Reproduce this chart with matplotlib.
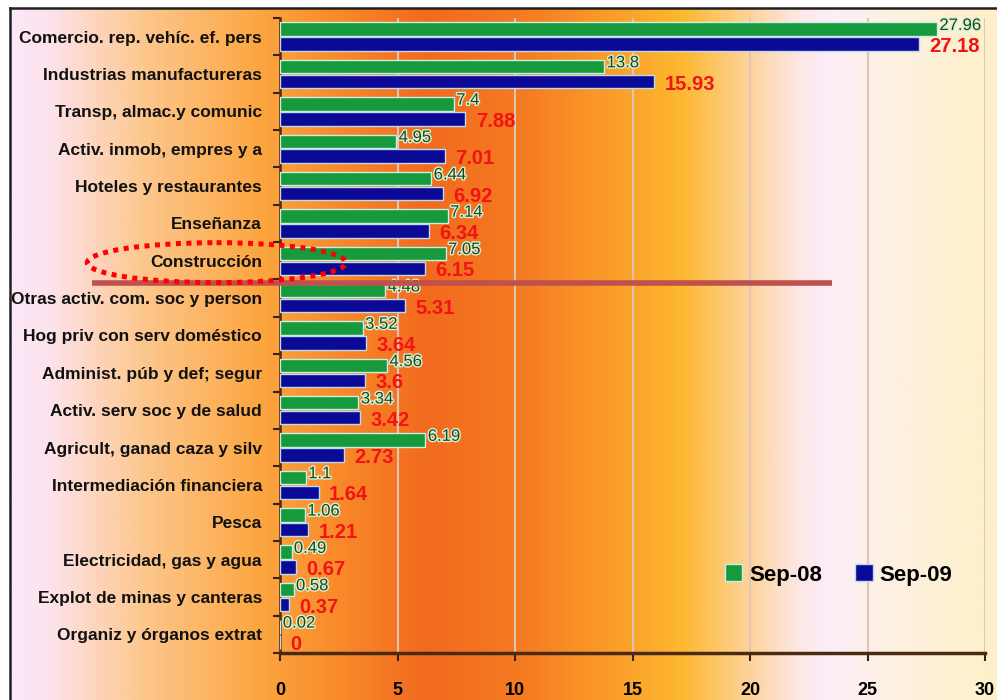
import numpy as np
import matplotlib
matplotlib.use("Agg")
import matplotlib.pyplot as plt
from matplotlib.colors import LinearSegmentedColormap, to_rgb
from matplotlib.patches import Ellipse
from matplotlib.lines import Line2D
import matplotlib.patheffects as pe

plt.rcParams['font.family'] = ['Liberation Sans', 'DejaVu Sans']

sectors = [
    "Comercio. rep. vehíc. ef. pers",
    "Industrias manufactureras",
    "Transp, almac.y comunic",
    "Activ. inmob, empres y a",
    "Hoteles y restaurantes",
    "Enseñanza",
    "Construcción",
    "Otras activ. com. soc y person",
    "Hog priv con serv doméstico",
    "Administ. púb y def; segur",
    "Activ. serv soc y de salud",
    "Agricult, ganad caza y silv",
    "Intermediación financiera",
    "Pesca",
    "Electricidad, gas y agua",
    "Explot de minas y canteras",
    "Organiz y órganos extrat",
]
sep08 = [27.96, 13.8, 7.4, 4.95, 6.44, 7.14, 7.05, 4.48, 3.52, 4.56, 3.34,
         6.19, 1.1, 1.06, 0.49, 0.58, 0.02]
sep09 = [27.18, 15.93, 7.88, 7.01, 6.92, 6.34, 6.15, 5.31, 3.64, 3.6, 3.42,
         2.73, 1.64, 1.21, 0.67, 0.37, 0]
xticks = [0, 5, 10, 15, 20, 25, 30]

W, H = 997, 700
fig = plt.figure(figsize=(W / 100, H / 100), dpi=100)

# horizontal background gradient
stops = [(0, "#fce8f8"), (40, "#fde2ea"), (130, "#fdc890"), (250, "#fca640"),
         (330, "#f98a2a"), (420, "#f26a1e"), (520, "#f57c22"), (600, "#fa9a28"),
         (680, "#fdb830"), (740, "#fdd090"), (800, "#fde8e8"), (830, "#fdeefa"),
         (870, "#fdf0e8"), (997, "#fdf0c8")]
cmap = LinearSegmentedColormap.from_list(
    "bg", [(p / W, to_rgb(c)) for p, c in stops])
bg = fig.add_axes([10 / W, 0, 1 - 10 / W, 1 - 8 / H])
bg.imshow(np.linspace(0, 1, 600)[None, :], cmap=cmap, aspect="auto",
          extent=[0, 1, 0, 1])
bg.set_axis_off()

# frame lines at left and top edges
fig.add_artist(Line2D([10 / W, 10 / W], [0, 1 - 8 / H], color="#202020", lw=1.8))
fig.add_artist(Line2D([10 / W, 1], [1 - 8 / H, 1 - 8 / H], color="#202020", lw=1.8))

ax = fig.add_axes([280 / W, 47 / H, 705 / W, 635 / H])
ax.patch.set_alpha(0)

y = np.arange(len(sectors))
h = 0.36
ax.barh(y - 0.2, sep08, height=h, color="#169a3c", edgecolor="#c8f0e8",
        linewidth=1, label="Sep-08", zorder=3)
ax.barh(y + 0.2, sep09, height=h, color="#0a0a96", edgecolor="#c0d8f0",
        linewidth=1, label="Sep-09", zorder=3)

for yi, v in zip(y, sep08):
    ax.text(v + 0.1, yi - 0.3, f"{v:g}", color="#144a22", fontsize=12,
            va="center", ha="left", zorder=4,
            path_effects=[pe.withStroke(linewidth=2, foreground="#d8f0d0")])
for yi, v in zip(y, sep09):
    ax.text(v + 0.45, yi + 0.27, f"{v:g}", color="#f01414", fontsize=14.5,
            fontweight="bold", va="center", ha="left", zorder=4)

ax.set_xlim(0, 30)
ax.set_ylim(len(sectors) - 0.5, -0.5)
ax.set_xticks(xticks)
ax.set_xticklabels([str(t) for t in xticks], fontsize=13, fontweight="bold")
ax.set_yticks(y)
ax.set_yticklabels(sectors, fontsize=12.5, fontweight="bold", color="#111111")
ax.set_yticks(np.arange(-0.5, len(sectors), 1), minor=True)
ax.tick_params(axis="y", which="major", length=0, pad=13)
ax.tick_params(axis="y", which="minor", length=5, width=1.5, color="#3a2010")
ax.tick_params(axis="x", length=6, width=1.5, color="#3a2010", pad=15)

ax.xaxis.grid(True, color="#e0c4b4", lw=1.5, zorder=0)
ax.set_axisbelow(True)
for s in ("top", "right"):
    ax.spines[s].set_visible(False)
ax.spines["left"].set_color("#4a2a10")
ax.spines["left"].set_linewidth(1.8)
ax.spines["bottom"].set_color("#4a2a10")
ax.spines["bottom"].set_linewidth(2.5)

# highlight around Construcción and the divider below it
ax.add_patch(Ellipse((-2.7, 6.05), 11.0, 1.07, fill=False, edgecolor="#ff0000",
                     lw=3.6, linestyle=(0, (1, 1.1)), clip_on=False, zorder=6))
ax.plot([-8.0, 23.5], [6.6, 6.6], color="#c0504d", lw=4, clip_on=False,
        zorder=5, solid_capstyle="butt")

ax.legend(loc="center left", bbox_to_anchor=(0.615, 0.123), ncol=2,
          frameon=False, handlelength=0.8, handleheight=0.8,
          handletextpad=0.3, columnspacing=1.5, borderpad=0,
          prop={"size": 16, "weight": "bold"})

fig.savefig("out.png", dpi=100)
